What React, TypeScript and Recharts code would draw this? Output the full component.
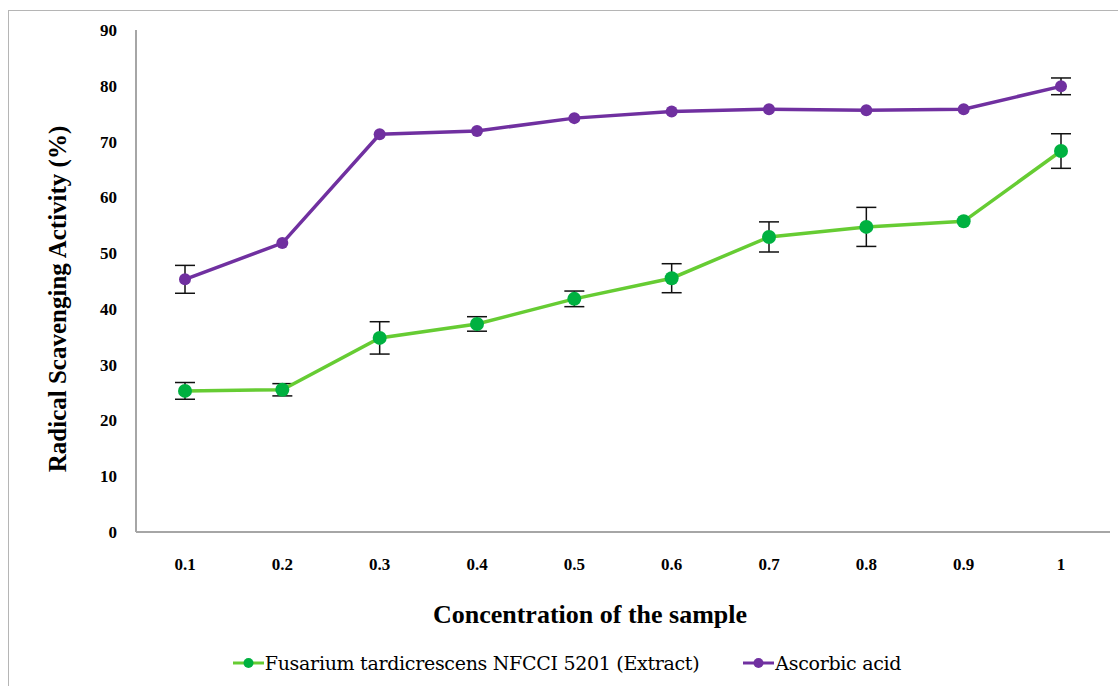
import { LineChart, Line, XAxis, YAxis, ErrorBar, Label } from 'recharts'

const concentrations = ['0.1', '0.2', '0.3', '0.4', '0.5', '0.6', '0.7', '0.8', '0.9', '1']
const fusarium = [25.3, 25.5, 34.8, 37.3, 41.8, 45.5, 52.9, 54.7, 55.7, 68.3]
const fusariumErr = [1.5, 1.1, 2.9, 1.3, 1.4, 2.6, 2.7, 3.5, 0, 3.1]
const ascorbic = [45.3, 51.8, 71.3, 71.9, 74.2, 75.4, 75.8, 75.6, 75.8, 79.9]
const ascorbicErr = [2.5, 0, 0, 0, 0, 0, 0, 0, 0, 1.5]
const yTicks = [0, 10, 20, 30, 40, 50, 60, 70, 80, 90]

const GREEN_LINE = '#66cc33'
const GREEN_DOT = '#00b140'
const PURPLE = '#7030a0'
const FONT = '"Liberation Serif", "DejaVu Serif", serif'

const data = concentrations.map((c, i) => ({
  conc: c,
  fusarium: fusarium[i],
  fusariumErr: fusariumErr[i],
  ascorbic: ascorbic[i],
  ascorbicErr: ascorbicErr[i],
}))

const legendItems = [
  { name: 'Fusarium tardicrescens NFCCI 5201 (Extract)', line: GREEN_LINE, dot: GREEN_DOT },
  { name: 'Ascorbic acid', line: PURPLE, dot: PURPLE },
]

function LegendBox() {
  return (
    <div style={{
      position: 'absolute', top: 652, left: 16, width: 1102, display: 'flex', justifyContent: 'center', gap: 44,
      fontFamily: '"DejaVu Serif", serif', fontSize: 19, color: '#000', letterSpacing: -0.3,
    }}>
      {legendItems.map(it => (
        <div key={it.name} style={{ display: 'flex', alignItems: 'center' }}>
          <svg width={31} height={14} style={{ marginRight: 1 }}>
            <line x1={0} y1={7} x2={31} y2={7} stroke={it.line} strokeWidth={3} />
            <circle cx={15.5} cy={7} r={5} fill={it.dot} />
          </svg>
          <span>{it.name}</span>
        </div>
      ))}
    </div>
  )
}

export default function App() {
  return (
    <div style={{ position: 'absolute', left: 0, top: 0, width: 1118, height: 686, background: '#fff' }}>
      <div style={{ position: 'absolute', left: 8, top: 10, width: 1110, height: 676, borderLeft: '1.5px solid #b5b5b5', borderTop: '1.5px solid #b5b5b5' }} />
      <LineChart width={1118} height={686} data={data} margin={{ top: 30, right: 8, bottom: 124, left: 76 }} style={{ position: 'absolute', left: 0, top: 0 }}>
        <XAxis
          dataKey="conc"
          height={30}
          padding={{ left: 49, right: 49 }}
          stroke="#a6a6a6"
          strokeWidth={2}
          tickLine={false}
          tickSize={0}
          tickMargin={26}
          tick={{ fill: '#000', fontSize: 17, fontWeight: 'bold', fontFamily: FONT }}
        >
          <Label
            content={({ viewBox }: any) => (
              <text x={viewBox.x + viewBox.width / 2 - 33} y={viewBox.y + 91} textAnchor="middle" fill="#000"
                style={{ fontFamily: FONT, fontSize: 26, fontWeight: 'bold' }}>
                Concentration of the sample
              </text>
            )}
          />
        </XAxis>
        <YAxis
          width={60}
          domain={[0, 90]}
          ticks={yTicks}
          interval={0}
          stroke="#a6a6a6"
          strokeWidth={2}
          tickLine={false}
          tickSize={0}
          tickMargin={19}
          tick={{ fill: '#000', fontSize: 17, fontWeight: 'bold', fontFamily: FONT }}
        >
          <Label
            content={({ viewBox }: any) => {
              const x = viewBox.x - 10
              const y = viewBox.y + viewBox.height / 2 + 18
              return (
                <text x={x} y={y} transform={`rotate(-90, ${x}, ${y})`} textAnchor="middle" fill="#000"
                  style={{ fontFamily: FONT, fontSize: 25, fontWeight: 'bold' }}>
                  Radical Scavenging Activity (%)
                </text>
              )
            }}
          />
        </YAxis>
        <Line
          dataKey="fusarium"
          name="Fusarium tardicrescens NFCCI 5201 (Extract)"
          stroke={GREEN_LINE}
          strokeWidth={3.5}
          dot={{ r: 7, fill: GREEN_DOT, stroke: GREEN_DOT, strokeWidth: 0 }}
          activeDot={false}
          isAnimationActive={false}
        >
          <ErrorBar dataKey="fusariumErr" width={10} stroke="#111" strokeWidth={1.5} isAnimationActive={false} />
        </Line>
        <Line
          dataKey="ascorbic"
          name="Ascorbic acid"
          stroke={PURPLE}
          strokeWidth={3.5}
          dot={{ r: 6, fill: PURPLE, stroke: PURPLE, strokeWidth: 0 }}
          activeDot={false}
          isAnimationActive={false}
        >
          <ErrorBar dataKey="ascorbicErr" width={10} stroke="#111" strokeWidth={1.5} isAnimationActive={false} />
        </Line>
      </LineChart>
      <LegendBox />
    </div>
  )
}
